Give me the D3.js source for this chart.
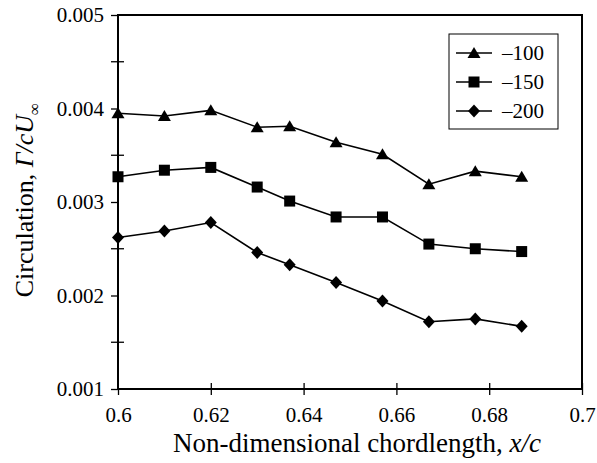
<!DOCTYPE html>
<html>
<head>
<meta charset="utf-8">
<script src="https://cdn.jsdelivr.net/npm/d3@7"></script>
<style>
  body { margin: 0; background: #fff; }
  text { font-family: "Liberation Serif", "Times New Roman", serif; fill: #000; }
</style>
</head>
<body>
<div id="chart"></div>
<script>
// data
var xPos = [0.6, 0.61, 0.62, 0.63, 0.637, 0.647, 0.657, 0.667, 0.677, 0.687];
var seriesNames = ["\u2013100", "\u2013150", "\u2013200"];
var s100 = [0.00395, 0.00392, 0.00398, 0.00380, 0.00381, 0.00364, 0.00351, 0.00319, 0.00333, 0.00327];
var s150 = [0.00327, 0.00334, 0.00337, 0.00316, 0.00301, 0.00284, 0.00284, 0.00255, 0.00250, 0.00247];
var s200 = [0.00262, 0.00269, 0.00278, 0.00246, 0.00233, 0.00214, 0.00194, 0.00172, 0.00175, 0.00167];
var xTicks = [0.6, 0.62, 0.64, 0.66, 0.68, 0.7];
var yTicks = [0.001, 0.002, 0.003, 0.004, 0.005];
var yMinor = [0.0015, 0.0025, 0.0035, 0.0045];

var W = 597, H = 463;
var svg = d3.select("#chart").append("svg")
    .attr("width", W).attr("height", H);

var x = d3.scaleLinear().domain([0.6, 0.7]).range([118, 582]);
var y = d3.scaleLinear().domain([0.001, 0.005]).range([389, 15]);

// frame of plot area
svg.append("rect")
  .attr("x", x(0.6)).attr("y", y(0.005))
  .attr("width", x(0.7) - x(0.6)).attr("height", y(0.001) - y(0.005))
  .attr("fill", "none").attr("stroke", "#000").attr("stroke-width", 2);

// x axis
var xAxis = svg.append("g")
  .attr("transform", "translate(0," + y(0.001) + ")")
  .call(d3.axisBottom(x).tickValues(xTicks).tickSize(6).tickPadding(12)
    .tickFormat(function(d) { return d3.format("")(+d.toFixed(2)); }));
xAxis.select(".domain").remove();
xAxis.selectAll(".tick line")
  .attr("y1", function(d) { return d === 0.6 ? 0 : -6; })
  .attr("stroke-width", 1.3);
xAxis.selectAll(".tick text").attr("font-size", 21).attr("dy", "0.71em");

// y axis
var yAxis = svg.append("g")
  .attr("transform", "translate(" + x(0.6) + ",0)")
  .call(d3.axisLeft(y).tickValues(yTicks).tickSize(7).tickPadding(7)
    .tickFormat(d3.format(".3f")));
yAxis.select(".domain").remove();
yAxis.selectAll(".tick line").attr("stroke-width", 1.3);
yAxis.selectAll(".tick text").attr("font-size", 21);

// minor y ticks (cross)
svg.append("g").selectAll("line").data(yMinor).join("line")
  .attr("x1", x(0.6) - 7).attr("x2", x(0.6) + 6)
  .attr("y1", function(d) { return y(d); }).attr("y2", function(d) { return y(d); })
  .attr("stroke", "#000").attr("stroke-width", 1.3);

// markers
function marker(g, kind) {
  if (kind === 0) {
    g.append("path").attr("d", "M0,-6L6.5,5L-6.5,5Z").attr("fill", "#000");
  } else if (kind === 1) {
    g.append("rect").attr("x", -5.5).attr("y", -5.5).attr("width", 11).attr("height", 11).attr("fill", "#000");
  } else {
    g.append("path").attr("d", "M0,-6.5L6,0L0,6.5L-6,0Z").attr("fill", "#000");
  }
}

var series = [s100, s150, s200];
var line = d3.line()
  .x(function(d, i) { return x(xPos[i]); })
  .y(function(d) { return y(d); });

series.forEach(function(vals, k) {
  svg.append("path").datum(vals)
    .attr("fill", "none").attr("stroke", "#000").attr("stroke-width", 1.6)
    .attr("d", line);
  vals.forEach(function(v, i) {
    var g = svg.append("g").attr("transform", "translate(" + x(xPos[i]) + "," + y(v) + ")");
    marker(g, k);
  });
});

// legend
var leg = svg.append("g");
leg.append("rect").attr("x", 449).attr("y", 34).attr("width", 109).attr("height", 95)
  .attr("fill", "#fff").attr("stroke", "#000").attr("stroke-width", 1);
seriesNames.forEach(function(name, k) {
  var ly = 53 + k * 29;
  leg.append("line").attr("x1", 456).attr("x2", 492).attr("y1", ly).attr("y2", ly)
    .attr("stroke", "#000").attr("stroke-width", 1.6);
  marker(leg.append("g").attr("transform", "translate(474," + ly + ")"), k);
  leg.append("text").attr("x", 502).attr("y", ly + 7).attr("font-size", 21).text(name);
});

// axis titles
var xt = svg.append("text").attr("x", 357).attr("y", 452)
  .attr("text-anchor", "middle").attr("font-size", 27);
xt.append("tspan").text("Non-dimensional chordlength, ");
xt.append("tspan").attr("font-style", "italic").text("x/c");

var yt = svg.append("text")
  .attr("transform", "translate(33,200) rotate(-90)")
  .attr("text-anchor", "middle").attr("font-size", 26);
yt.append("tspan").text("Circulation, ");
yt.append("tspan").attr("font-style", "italic").text("\u0393/cU");
yt.append("tspan").attr("font-size", 17).attr("dy", 7).text("\u221e");
</script>
</body>
</html>
